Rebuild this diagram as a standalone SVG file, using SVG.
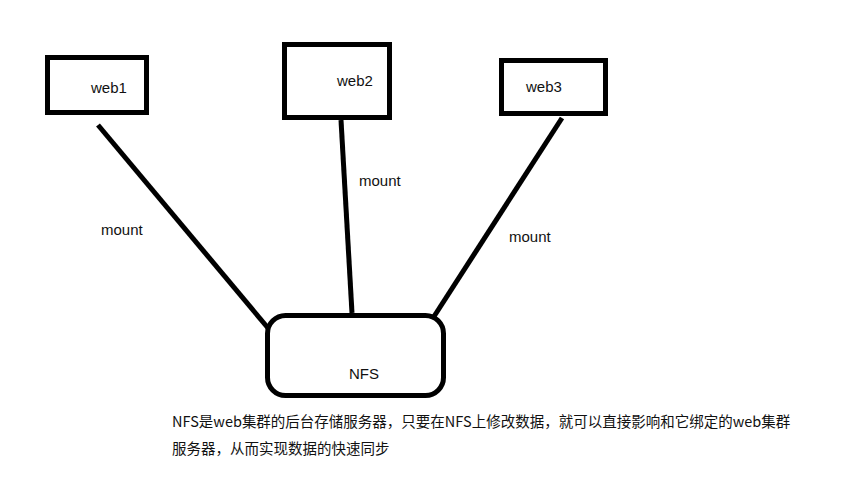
<svg xmlns="http://www.w3.org/2000/svg" width="868" height="504" viewBox="0 0 868 504">
<style>
.b{fill:none;stroke:#000;stroke-width:5}
.t{font-family:"Liberation Sans","Noto Sans CJK SC",sans-serif;font-size:15px;fill:#111}
.c{font-family:"Noto Sans CJK SC",sans-serif;font-size:14.5px;fill:#111}
</style>
<rect width="868" height="504" fill="#fff"/>
<g id="connectors" stroke="#000" stroke-width="5" fill="none">
<line x1="98" y1="125" x2="268" y2="328"/>
<line x1="341" y1="120" x2="352" y2="313"/>
<line x1="562" y1="118" x2="433" y2="318"/>
<text class="t" x="101" y="235" stroke="none">mount</text>
<text class="t" x="359" y="186" stroke="none">mount</text>
<text class="t" x="509" y="242" stroke="none">mount</text>
</g>
<g id="web1"><rect class="b" x="47.5" y="57.5" width="99" height="55"/><text class="t" x="91" y="93">web1</text></g>
<g id="web2"><rect class="b" x="284.5" y="44.5" width="105" height="73"/><text class="t" x="337" y="86">web2</text></g>
<g id="web3"><rect class="b" x="501.5" y="60.5" width="104" height="53"/><text class="t" x="526" y="92">web3</text></g>
<g id="nfs"><rect class="b" x="267.5" y="315.5" width="176" height="80" rx="18"/><text class="t" x="349" y="379">NFS</text></g>
<g id="caption">
<text class="c" x="172" y="427">NFS是web集群的后台存储服务器，只要在NFS上修改数据，就可以直接影响和它绑定的web集群</text>
<text class="c" x="172" y="454">服务器，从而实现数据的快速同步</text>
</g>
</svg>
